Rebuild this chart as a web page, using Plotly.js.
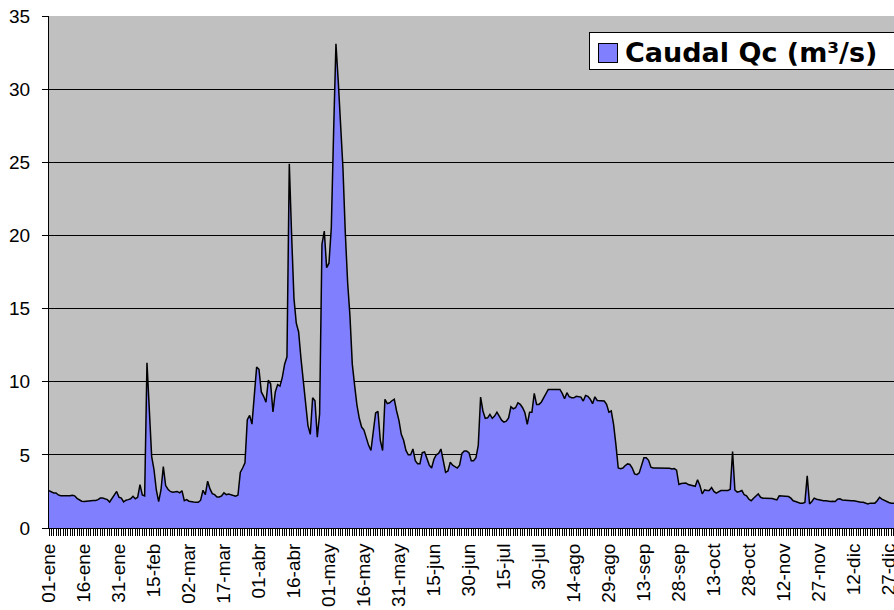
<!DOCTYPE html>
<html>
<head>
<meta charset="utf-8">
<script src="https://cdn.plot.ly/plotly-3.0.1.min.js"></script>
<style>
html,body{margin:0;padding:0;background:#fff;overflow:hidden;}
#chart{width:894px;height:610px;}
</style>
</head>
<body>
<div id="chart"></div>
<script>
// Serie diaria: Caudal Qc (m3/s), 01-ene ... 31-dic (365 días)
const serieNombre = 'Caudal Qc (m³/s)';
const caudal = [
  // ene (0-30)
  2.56, 2.5, 2.4, 2.4, 2.26, 2.2, 2.2, 2.2, 2.17, 2.2,
  2.24, 2.2, 2.03, 1.9, 1.83, 1.82, 1.82, 1.82, 1.87, 1.88,
  1.88, 1.94, 2.05, 2.05, 2.0, 1.94, 1.78, 2.0, 2.28, 2.5,
  2.1,
  // feb (31-58)
  2.05, 1.78, 1.9, 1.94, 2.0, 2.17, 2.0, 2.1, 2.97, 2.26,
  2.2, 11.3, 8.1, 4.9, 4.0, 2.6, 1.8, 2.6, 4.2, 2.9,
  2.65, 2.5, 2.45, 2.45, 2.5, 2.4, 2.55, 1.87,
  // mar (59-89)
  1.94, 1.83, 1.78, 1.78, 1.76, 1.76, 1.9, 2.58, 2.28, 3.2,
  2.67, 2.35, 2.28, 2.12, 2.12, 2.2, 2.4, 2.28, 2.33, 2.26,
  2.2, 2.17, 2.25, 3.8, 4.1, 4.45, 7.4, 7.7, 7.1, 9.0,
  11.0,
  // abr (90-119)
  10.85, 9.3, 9.0, 8.6, 10.1, 9.86, 7.93, 9.3, 9.8, 9.7,
  10.3, 11.2, 11.7, 24.9, 20.0, 15.7, 14.0, 13.4, 11.6, 10.0,
  8.15, 7.0, 6.4, 8.9, 8.7, 6.2, 7.8, 19.4, 20.3, 17.8,
  // may (120-150)
  18.1, 20.5, 27.1, 33.1, 30.5, 27.5, 24.6, 20.2, 16.8, 14.5,
  11.2, 9.75, 8.4, 7.5, 6.9, 6.7, 6.1, 5.65, 5.3, 6.6,
  7.86, 7.97, 6.0, 5.3, 8.8, 8.5, 8.56, 8.7, 8.8, 8.0,
  7.36,
  // jun (151-180)
  6.4, 6.0, 5.3, 5.0, 5.0, 5.4, 4.6, 4.4, 4.4, 5.15,
  5.2, 4.7, 4.3, 4.1, 4.7, 5.0, 5.1, 5.4, 4.7, 3.8,
  3.9, 4.5, 4.3, 4.2, 4.1, 4.3, 5.1, 5.26, 5.26, 5.15,
  // jul (181-211)
  4.6, 4.6, 4.8, 5.65, 8.95, 8.0, 7.49, 7.53, 7.76, 7.5,
  7.65, 7.92, 7.65, 7.37, 7.24, 7.3, 7.53, 8.29, 8.15, 8.22,
  8.56, 8.45, 8.22, 7.88, 7.08, 7.92, 7.92, 9.2, 8.45, 8.45,
  8.6,
  // ago (212-242)
  8.9, 9.25, 9.47, 9.47, 9.47, 9.47, 9.47, 9.47, 9.2, 8.84,
  9.25, 8.97, 8.9, 8.9, 9.0, 9.0, 8.95, 8.68, 9.06, 9.0,
  8.8, 8.5, 8.97, 8.72, 8.72, 8.72, 8.68, 8.45, 7.92, 8.0,
  7.08,
  // sep (243-272)
  5.7, 4.1, 4.06, 4.1, 4.27, 4.38, 4.34, 4.1, 3.7, 3.65,
  3.77, 4.34, 4.8, 4.8, 4.63, 4.16, 4.1, 4.1, 4.1, 4.1,
  4.1, 4.1, 4.08, 4.08, 4.04, 4.06, 3.95, 2.97, 3.04, 3.04,
  // oct (273-303)
  3.08, 2.97, 2.92, 2.9, 2.85, 3.3, 2.9, 2.33, 2.6, 2.56,
  2.56, 2.77, 2.5, 2.38, 2.5, 2.56, 2.56, 2.56, 2.56, 2.65,
  5.23, 2.6, 2.45, 2.5, 2.56, 2.27, 2.2, 1.97, 1.86, 2.04,
  2.2,
  // nov (304-333)
  2.33, 2.1, 2.04, 2.04, 2.04, 2.04, 2.02, 1.97, 1.92, 2.2,
  2.2, 2.15, 2.17, 2.15, 2.04, 1.86, 1.81, 1.74, 1.7, 1.7,
  1.75, 3.56, 1.65, 1.81, 2.04, 1.97, 1.92, 1.92, 1.86, 1.86,
  // dic (334-364)
  1.81, 1.81, 1.83, 1.81, 1.97, 2.0, 1.92, 1.9, 1.86, 1.86,
  1.86, 1.86, 1.81, 1.77, 1.76, 1.76, 1.7, 1.65, 1.7, 1.7,
  1.7, 1.86, 2.1, 1.97, 1.88, 1.81, 1.74, 1.7, 1.7, 1.68,
  1.68
];
const tickDays = [0, 15, 30, 45, 60, 75, 90, 105, 120, 135, 150, 165, 180, 195, 210, 225, 240, 255, 270, 285, 300, 315, 330, 345, 360];
const tickLabels = ['01-ene','16-ene','31-ene','15-feb','02-mar','17-mar','01-abr','16-abr','01-may','16-may','31-may','15-jun','30-jun','15-jul','30-jul','14-ago','29-ago','13-sep','28-sep','13-oct','28-oct','12-nov','27-nov','12-dic','27-dic'];
const dias = caudal.map((v, i) => i);

// layout geometry (pixels)
const W = 894, H = 610, L = 49, T = 16, B = 528;
const plotW = W - L, plotH = B - T;
const px = x => (x - L) / plotW;
const py = y => (B - y) / plotH;

const trace = {
  x: dias, y: caudal, type: 'scatter', mode: 'lines',
  name: serieNombre, fill: 'tozeroy', fillcolor: '#8080FF',
  line: {color: '#000000', width: 1.5}, showlegend: false, hoverinfo: 'skip'
};

const layout = {
  width: W, height: H, autosize: false,
  margin: {l: L, r: 0, t: T, b: H - B, pad: 0},
  paper_bgcolor: '#FFFFFF', plot_bgcolor: '#C0C0C0',
  font: {family: 'Liberation Sans, Arial, sans-serif', size: 19, color: '#000'},
  xaxis: {
    range: [0, 362.2], showgrid: false, zeroline: false,
    showline: true, linecolor: '#000', linewidth: 1,
    tickmode: 'array', tickvals: tickDays, ticktext: tickLabels,
    tickangle: -90, ticks: 'outside', ticklen: 7, tickcolor: '#000', tickwidth: 1,
    ticklabeloverflow: 'allow',
    minor: {tickmode: 'linear', tick0: 0, dtick: 1, ticks: 'outside', ticklen: 7, tickcolor: '#000', tickwidth: 1, showgrid: false}
  },
  yaxis: {
    range: [0, 35], dtick: 5, tick0: 0, showgrid: true, gridcolor: '#000', gridwidth: 1,
    zeroline: false, showline: true, linecolor: '#000', linewidth: 1,
    ticks: 'outside', ticklen: 6, tickcolor: '#000', tickwidth: 1,
    ticklabelstandoff: 8
  },
  annotations: [
    // legend box
    {text: ' ', xref: 'paper', yref: 'paper', x: px(589), y: py(32), xanchor: 'left', yanchor: 'top', showarrow: false,
     width: 330, height: 36, bgcolor: '#FFFFFF', bordercolor: '#000', borderwidth: 1, borderpad: 0},
    // legend text
    {text: '<b>' + serieNombre + '</b>', xref: 'paper', yref: 'paper', x: px(623), y: py(52), xanchor: 'left', yanchor: 'middle', showarrow: false,
     font: {family: 'DejaVu Sans, Verdana, sans-serif', size: 27, color: '#000'}},
    // legend swatch
    {text: ' ', xref: 'paper', yref: 'paper', x: px(598), y: py(43), xanchor: 'left', yanchor: 'top', showarrow: false,
     width: 18, height: 18, bgcolor: '#8080FF', bordercolor: '#000', borderwidth: 1, borderpad: 0}
  ]
};

Plotly.newPlot('chart', [trace], layout, {staticPlot: true, displayModeBar: false});
</script>
</body>
</html>
